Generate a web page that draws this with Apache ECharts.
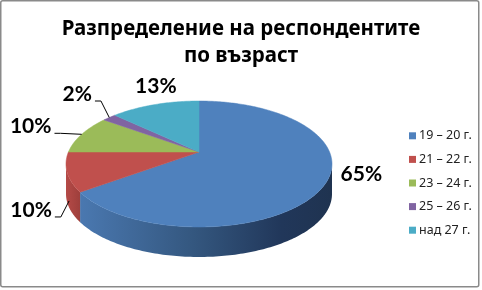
<!DOCTYPE html>
<html>
<head>
<meta charset="utf-8">
<script src="https://cdn.jsdelivr.net/npm/echarts@6/dist/echarts.min.js"></script>
<style>
html,body{margin:0;padding:0;background:#fff;}
#chart{width:482px;height:290px;}
</style>
</head>
<body>
<div id="chart"></div>
<script>
// ---- data ----
const categories = ['19 – 20 г.', '21 – 22 г.', '23 – 24 г.', '25 – 26 г.', 'над 27 г.'];
const values = [65, 10, 10, 2, 13];
const titleText = 'Разпределение на респондентите\nпо възраст';

// ---- style / layout ----
const colors = ['#4f81bd', '#c0504d', '#9bbb59', '#8064a2', '#4bacc6'];
const sideStops = [
  [[0, '#4a78b0'], [0.45, '#34577f'], [0.8, '#21375a'], [1, '#1f3350']],
  [[0, '#b54a47'], [1, '#9e3f3c']],
  [[0, '#7e9a48'], [1, '#7e9a48']],
  [[0, '#65508a'], [1, '#65508a']],
  [[0, '#3a8ea6'], [1, '#3a8ea6']]
];
const CX = 199, CY = 164, RX = 133, RY = 63, T = -0.19, DEPTH = 30;
const FRONT_A = 101, FRONT_B = 259; // visible side range (deg)
const labelOffsets = [[35, -8], [-36, 38], [-51, -8], [-32, -23.5], [1, -18.5]];
const leaderShow = [false, true, true, true, false];
const LABEL_FONT = 'bold 21px Lato, "Noto Sans", sans-serif';

const total = values.reduce((a, b) => a + b, 0);
const starts = [];
values.reduce((acc, v, i) => { starts[i] = acc; return acc + v; }, 0);

function proj(deg, dy) {
  const r = deg * Math.PI / 180;
  const X = Math.sin(r), Y = -Math.cos(r);
  const den = 1 + T * Y;
  const Xp = X * Math.sqrt(1 - T * T) / den;
  const Yp = (Y + T) / den;
  return [CX + RX * Xp, CY + RY * Yp + (dy || 0)];
}
function arcPts(a, b, dy) {
  const pts = [];
  const n = Math.max(2, Math.ceil(Math.abs(b - a)));
  for (let k = 0; k <= n; k++) pts.push(proj(a + (b - a) * k / n, dy));
  return pts;
}
const measureCtx = document.createElement('canvas').getContext('2d');
function textW(s) { measureCtx.font = LABEL_FONT; return measureCtx.measureText(s).width; }

function sidesRender(params, api) {
  const i = params.dataIndex;
  const v = api.value(0);
  const a = starts[i] / total * 360, b = a + v / total * 360;
  const s = Math.max(a, FRONT_A), e = Math.min(b, FRONT_B);
  if (e <= s) return null;
  const top = arcPts(s, e, 0);
  const bot = arcPts(e, s, DEPTH);
  return {
    type: 'polygon',
    shape: { points: top.concat(bot) },
    style: { fill: new echarts.graphic.LinearGradient(0, 0, 1, 0, sideStops[i].map(st => ({ offset: st[0], color: st[1] }))) }
  };
}

function makeTopRender(i) {
  return function (params, api) {
    const v = api.value(0);
    const a = starts[i] / total * 360, b = a + v / total * 360;
    const apex = [CX, CY + RY * T];
    const pts = [apex].concat(arcPts(a, b, 0));
    const children = [{
      type: 'polygon', shape: { points: pts },
      style: { fill: colors[i], stroke: colors[i], lineWidth: 0.5 }
    }];
    const mid = (a + b) / 2;
    const anchor = proj(mid, 0);
    const front = mid > FRONT_A && mid < FRONT_B;
    const target = front ? [anchor[0] + 2, anchor[1] + DEPTH - 1] : anchor;
    const lx = anchor[0] + labelOffsets[i][0], ly = anchor[1] + labelOffsets[i][1];
    const txt = Math.round(v / total * 100) + '%';
    children.push({
      type: 'text', z2: 10,
      style: { text: txt, x: lx, y: ly, font: LABEL_FONT, fill: '#000', align: 'center', verticalAlign: 'middle' }
    });
    if (leaderShow[i]) {
      const w = textW(txt);
      const sx = lx + w / 2 + 3, sy = ly + 7;
      children.push({
        type: 'polyline', z2: 10,
        shape: { points: [[sx, sy], [sx + 6, sy], target] },
        style: { stroke: '#000', lineWidth: 1, fill: null }
      });
    }
    return { type: 'group', children: children };
  };
}

const series = [{
  type: 'custom', name: '_sides', coordinateSystem: 'none', silent: true, z: 1,
  data: values.map(v => [v]), renderItem: sidesRender
}];
categories.forEach((c, i) => {
  series.push({
    type: 'custom', name: c, coordinateSystem: 'none', silent: true, z: 2,
    itemStyle: { color: colors[i] },
    data: [[values[i]]], renderItem: makeTopRender(i)
  });
});

const chart = echarts.init(document.getElementById('chart'), null, { renderer: 'canvas' });
chart.setOption({
  animation: false,
  backgroundColor: '#fff',
  title: {
    text: titleText, left: 'center', top: 11,
    textStyle: { fontFamily: '"Noto Sans", sans-serif', fontWeight: 'bold', fontSize: 20.5, lineHeight: 27, color: '#000' }
  },
  legend: {
    data: categories, orient: 'vertical', left: 404, top: 124,
    icon: 'rect', itemWidth: 7, itemHeight: 7, itemGap: 10,
    textStyle: { fontFamily: '"Noto Sans", sans-serif', fontSize: 12.5, lineHeight: 13.6, color: '#222', padding: [0, 0, 0, -2] },
    selectedMode: false
  },
  graphic: [{
    type: 'rect', shape: { x: 0.75, y: 0.75, width: 478, height: 286, r: 2 },
    style: { fill: null, stroke: '#8a8a8a', lineWidth: 1.5 }, silent: true, z: 100
  }],
  series: series
});
</script>
</body>
</html>
